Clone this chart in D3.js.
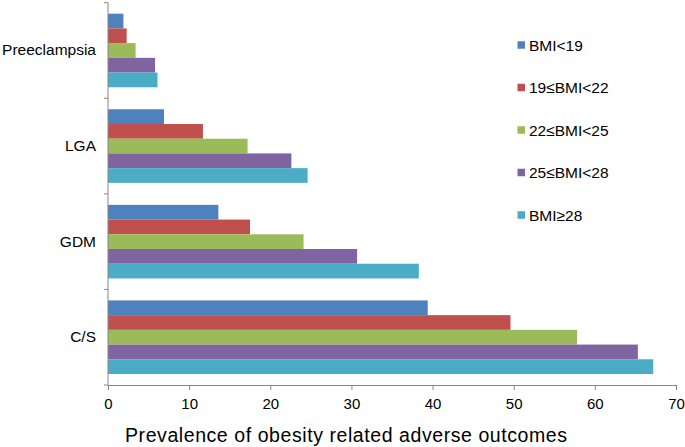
<!DOCTYPE html>
<html>
<head>
<meta charset="utf-8">
<script src="https://cdn.jsdelivr.net/npm/d3@7"></script>
<style>
  body { margin: 0; background: #fff; }
  text { font-family: "Liberation Sans", Arial, sans-serif; fill: #000; }
</style>
</head>
<body>
<div id="chart"></div>
<script>
// categories, top to bottom
var outcomes = ["Preeclampsia", "LGA", "GDM", "C/S"];
// BMI groups, drawn top to bottom inside each category
var groups = ["BMI<19", "19≤BMI<22", "22≤BMI<25", "25≤BMI<28", "BMI≥28"];
var colors = ["#4F81BD", "#C0504D", "#9BBB59", "#8064A2", "#4BACC6"];

// prevalence (%) per outcome, one value per BMI group
var preeclampsia = [1.9, 2.3, 3.4, 5.8, 6.1];
var lga = [6.9, 11.7, 17.2, 22.6, 24.6];
var gdm = [13.6, 17.5, 24.1, 30.7, 38.3];
var cs = [39.4, 49.6, 57.8, 65.3, 67.2];

var xTicks = [0, 10, 20, 30, 40, 50, 60, 70];
var xTitle = "Prevalence of obesity related adverse outcomes";

var rows = [preeclampsia, lga, gdm, cs];
var data = [];
outcomes.forEach(function (o, i) {
  groups.forEach(function (g, j) {
    data.push({ outcome: o, group: g, value: rows[i][j] });
  });
});

var W = 685, H = 447;
var x0 = 108, x1 = 676, yTop = 2.7, yBot = 385;

var svg = d3.select("#chart").append("svg")
  .attr("width", W)
  .attr("height", H);

var x = d3.scaleLinear().domain([0, 70]).range([x0, x1]);
var y = d3.scaleBand().domain(outcomes).range([yTop, yBot]).padding(0);
var pad = 11;
var ySub = d3.scaleBand().domain(groups).range([pad, y.bandwidth() - pad]).padding(0);
var color = d3.scaleOrdinal().domain(groups).range(colors);

// bars
svg.append("g")
  .selectAll("rect")
  .data(data)
  .enter()
  .append("rect")
  .attr("x", x(0))
  .attr("y", function (d) { return y(d.outcome) + ySub(d.group); })
  .attr("width", function (d) { return x(d.value) - x(0); })
  .attr("height", ySub.bandwidth())
  .attr("fill", function (d) { return color(d.group); });

var axisColor = "#868686";

// x axis
var xAxis = d3.axisBottom(x).tickValues(xTicks).tickSize(5).tickSizeOuter(0).tickPadding(8.5);
var gx = svg.append("g")
  .attr("transform", "translate(0," + yBot + ")")
  .call(xAxis);
gx.select(".domain").attr("stroke", axisColor);
gx.selectAll(".tick line").attr("stroke", axisColor);
gx.selectAll(".tick text")
  .style("font-family", '"Liberation Sans", Arial, sans-serif')
  .style("font-size", "15px")
  .attr("fill", "#000");

// y axis: labels at band centres, ticks at band edges
var yAxis = d3.axisLeft(y).tickSize(0).tickPadding(12);
var gy = svg.append("g")
  .attr("transform", "translate(" + x0 + ",0)")
  .call(yAxis);
gy.select(".domain").remove();
gy.selectAll(".tick text")
  .style("font-family", '"Liberation Sans", Arial, sans-serif')
  .style("font-size", "15.5px")
  .attr("fill", "#000");

var edges = outcomes.map(function (o) { return y(o); }).concat([yBot]);
svg.append("line")
  .attr("x1", x0).attr("x2", x0)
  .attr("y1", yTop).attr("y2", yBot)
  .attr("stroke", axisColor);
svg.append("g")
  .selectAll("line")
  .data(edges)
  .enter()
  .append("line")
  .attr("x1", x0 - 4).attr("x2", x0)
  .attr("y1", function (d) { return d; })
  .attr("y2", function (d) { return d; })
  .attr("stroke", axisColor);

// x axis title
svg.append("text")
  .attr("x", 125)
  .attr("y", 441.5)
  .attr("textLength", 442)
  .attr("lengthAdjust", "spacing")
  .style("font-size", "19.5px")
  .text(xTitle);

// legend
var legend = svg.append("g")
  .selectAll("g")
  .data(groups)
  .enter()
  .append("g")
  .attr("transform", function (d, i) { return "translate(517.5," + (45 + i * 42.5) + ")"; });

legend.append("rect")
  .attr("x", 0)
  .attr("y", -3.75)
  .attr("width", 7.5)
  .attr("height", 7.5)
  .attr("fill", function (d) { return color(d); });

legend.append("text")
  .attr("x", 11.5)
  .attr("dy", "0.36em")
  .style("font-size", "15.5px")
  .text(function (d) { return d; });
</script>
</body>
</html>
